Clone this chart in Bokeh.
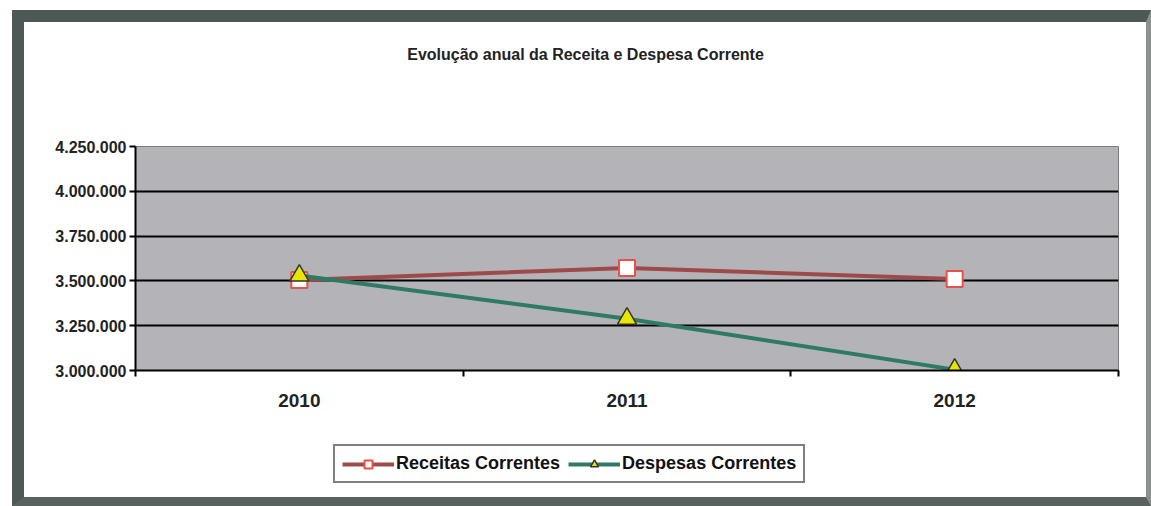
from bokeh.plotting import figure
from bokeh.models import FixedTicker, Legend, LegendItem, Range1d, Label
from bokeh.layouts import column
from bokeh.embed import file_html
from bokeh.resources import INLINE

# ---- data ----
title_text = "Evolução anual da Receita e Despesa Corrente"
years = ["2010", "2011", "2012"]
receitas = [3505000, 3572000, 3511000]
despesas = [3530000, 3289000, 3005000]
y_ticks = [3000000, 3250000, 3500000, 3750000, 4000000, 4250000]
y_labels = ["3.000.000", "3.250.000", "3.500.000", "3.750.000", "4.000.000", "4.250.000"]
series_names = ["Receitas Correntes", "Despesas Correntes"]

FONT = "Liberation Sans"
W = 1122
xs = [i + 0.5 for i in range(len(years))]

STY_R_LINE = dict(line_color="#9e4a4a", line_width=4)
STY_R_MARK = dict(marker="square", size=16, fill_color="white", line_color="#e8504a", line_width=2)
STY_D_LINE = dict(line_color="#2e7a64", line_width=4)
STY_D_MARK = dict(marker="triangle", size=19, fill_color="#e6e600", line_color="#333333", line_width=1.5)


def blank_fig(h):
    f = figure(width=W, height=h, sizing_mode="fixed", output_backend="svg",
               toolbar_location=None, x_axis_location=None, y_axis_location=None,
               x_range=Range1d(0, 1), y_range=Range1d(0, 1), min_border=0)
    f.xgrid.visible = False
    f.ygrid.visible = False
    f.outline_line_color = None
    f.background_fill_color = "white"
    f.border_fill_color = "white"
    return f


# ---- header with the title ----
head = blank_fig(114)
head.add_layout(Label(x=450, y=82, x_units="screen", y_units="screen", text=title_text,
                      text_font=FONT, text_font_style="bold", text_font_size="16px",
                      text_color="#222222", text_align="center", text_baseline="alphabetic"))

# ---- main chart ----
p = figure(width=W, height=294, sizing_mode="fixed", output_backend="svg", toolbar_location=None,
           x_range=Range1d(0, len(years)), y_range=Range1d(y_ticks[0], y_ticks[-1]),
           min_border_left=111, min_border_top=10, min_border_right=28, min_border_bottom=60)
p.background_fill_color = "#b4b4b8"
p.border_fill_color = "white"
p.outline_line_color = "#7a7a7a"
p.outline_line_width = 1

p.yaxis.ticker = FixedTicker(ticks=y_ticks)
p.yaxis.major_label_overrides = {t: l for t, l in zip(y_ticks, y_labels)}
p.yaxis.major_label_text_font = FONT
p.yaxis.major_label_text_font_style = "bold"
p.yaxis.major_label_text_font_size = "16px"
p.yaxis.major_label_text_color = "#222222"
p.yaxis.axis_line_color = "black"
p.yaxis.axis_line_width = 2
p.yaxis.major_tick_line_color = "black"
p.yaxis.major_tick_line_width = 2
p.yaxis.major_tick_out = 6
p.yaxis.major_tick_in = 0
p.yaxis.minor_tick_line_color = None
p.yaxis.major_label_standoff = 3

p.xaxis.ticker = FixedTicker(ticks=xs, minor_ticks=list(range(len(years) + 1)))
p.xaxis.major_label_overrides = {x: y for x, y in zip(xs, years)}
p.xaxis.major_label_text_font = FONT
p.xaxis.major_label_text_font_style = "bold"
p.xaxis.major_label_text_font_size = "19px"
p.xaxis.major_label_text_color = "#222222"
p.xaxis.axis_line_color = "black"
p.xaxis.axis_line_width = 2
p.xaxis.major_tick_line_color = None
p.xaxis.major_tick_out = 0
p.xaxis.major_tick_in = 0
p.xaxis.minor_tick_line_color = "black"
p.xaxis.minor_tick_line_width = 2
p.xaxis.minor_tick_out = 6
p.xaxis.minor_tick_in = 0
p.xaxis.major_label_standoff = 17

p.xgrid.grid_line_color = None
p.ygrid.ticker = FixedTicker(ticks=y_ticks[1:-1])
p.ygrid.grid_line_color = "black"
p.ygrid.grid_line_width = 2

p.line(xs, receitas, **STY_R_LINE)
p.scatter(xs, receitas, **STY_R_MARK)
p.line(xs, despesas, **STY_D_LINE)
p.scatter(xs, despesas, **STY_D_MARK)

# ---- legend strip (its renderers hold the series, outside this strip's view) ----
leg = blank_fig(67)
l1 = leg.line(xs, receitas, **STY_R_LINE)
k1 = leg.scatter(xs, receitas, **STY_R_MARK)
l2 = leg.line(xs, despesas, **STY_D_LINE)
k2 = leg.scatter(xs, despesas, **STY_D_MARK)
legend = Legend(items=[LegendItem(label=series_names[0], renderers=[l1, k1]),
                       LegendItem(label=series_names[1], renderers=[l2, k2])],
                orientation="horizontal", location=(198, 14),
                label_text_font=FONT, label_text_font_style="bold",
                label_text_font_size="18px", label_text_color="#111111",
                glyph_width=52, glyph_height=20, label_standoff=2, spacing=8,
                padding=7, margin=0, border_line_color="black", border_line_width=2,
                background_fill_color="white", background_fill_alpha=1)
leg.add_layout(legend, "center")

layout = column(head, p, leg, sizing_mode="fixed", spacing=0,
                styles={"margin-left": "12px", "margin-top": "10px",
                        "border-left": "12px solid #4e5856",
                        "border-top": "12px solid #4e5856",
                        "border-right": "5px solid #8c9090",
                        "border-bottom": "9px solid #5a6260"})

open("out.html", "w").write(file_html(layout, INLINE))
